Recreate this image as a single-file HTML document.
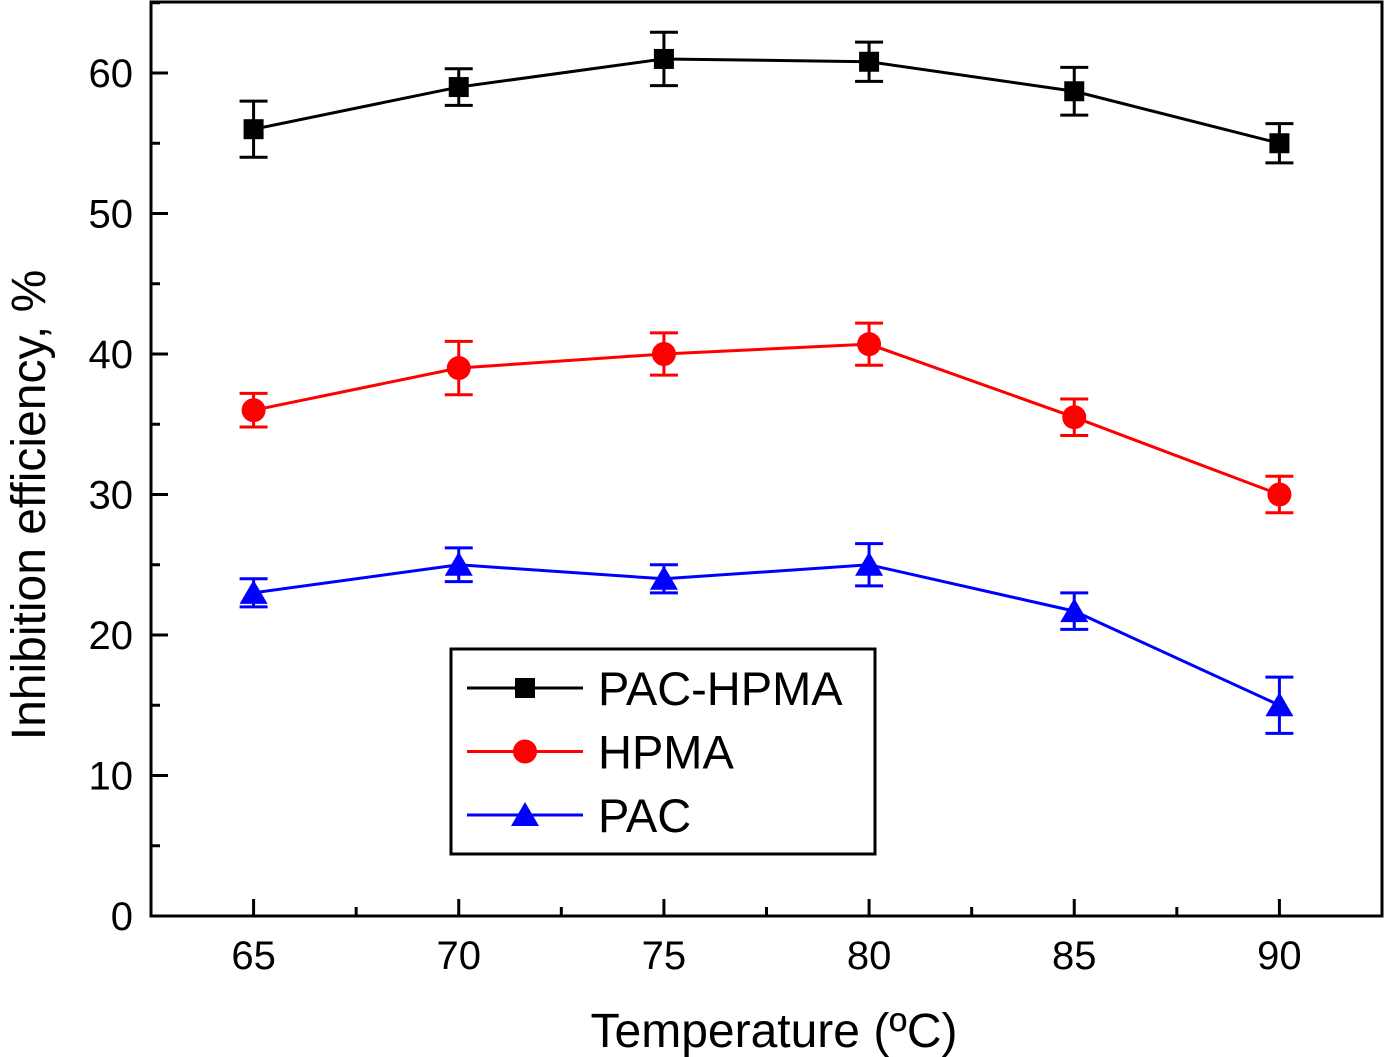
<!DOCTYPE html>
<html><head><meta charset="utf-8"><style>
body{margin:0;background:#fff}
svg{display:block;font-family:"Liberation Sans",Arial,sans-serif}
</style></head><body>
<svg id="c" width="1384" height="1057" viewBox="0 0 1384 1057"></svg>
<script>
const categories=[65,70,75,80,85,90];
const pacHpma=[56,59,61,60.8,58.7,55];
const pacHpmaErr=[2,1.3,1.9,1.4,1.7,1.4];
const hpma=[36,39,40,40.7,35.5,30];
const hpmaErr=[1.2,1.9,1.5,1.5,1.3,1.3];
const pac=[23,25,24,25,21.7,15];
const pacErr=[1,1.2,1,1.5,1.3,2];
const xTicks=[65,70,75,80,85,90];
const yTicks=[0,10,20,30,40,50,60];
const seriesNames=["PAC-HPMA","HPMA","PAC"];

const L=151,R=1382,T=2,B=916;
const x=v=>L+(v-62.5)/30*(R-L);
const y=v=>B-v*14.05;
const svg=document.getElementById('c');
const NS='http://www.w3.org/2000/svg';
function mk(tag,attrs,parent){const e=document.createElementNS(NS,tag);for(const k in attrs)e.setAttribute(k,attrs[k]);(parent||svg).appendChild(e);return e;}

let frame=mk('rect',{x:L,y:T,width:R-L,height:B-T,fill:'none',stroke:'#000','stroke-width':3});



for(let v=62.5;v<=92.5;v+=2.5){
  const major=v%5===0;
  const t=mk('line',{x1:x(v),x2:x(v),y1:B,y2:B-(major?17:9),stroke:'#000','stroke-width':3});
  
  
}
xTicks.forEach(v=>{
  const t=mk('text',{x:x(v),y:969,'font-size':40,'text-anchor':'middle'});t.textContent=v;
  
  
});
for(let v=0;v<=65;v+=5){
  const major=v%10===0;
  const t=mk('line',{x1:L,x2:L+(major?17:9),y1:y(v),y2:y(v),stroke:'#000','stroke-width':3});
  
  
}
yTicks.forEach(v=>{
  const t=mk('text',{x:133,y:y(v)+14,'font-size':40,'text-anchor':'end'});t.textContent=v;
  
  
});
let xt=mk('text',{x:774,y:1047,'font-size':48,'text-anchor':'middle'});xt.textContent='Temperature (ºC)';


let yt=mk('text',{x:0,y:0,'font-size':48,'text-anchor':'middle',transform:'translate(45,505) rotate(-90)'});yt.textContent='Inhibition efficiency, %';



function marker(shape,cx,cy,col,parent){
  if(shape==='sq')return mk('rect',{x:cx-10,y:cy-10,width:20,height:20,fill:col},parent);
  if(shape==='ci')return mk('circle',{cx:cx,cy:cy,r:12,fill:col},parent);
  return mk('polygon',{points:`${cx},${cy-13} ${cx+14},${cy+11} ${cx-14},${cy+11}`,fill:col},parent);
}
const series=[[pacHpma,pacHpmaErr,'#000','sq'],[hpma,hpmaErr,'#f00','ci'],[pac,pacErr,'#00f','tr']];
series.forEach(([vals,errs,col,sh],si)=>{
  const g=mk('g',{});
  
  
  const p=mk('polyline',{points:vals.map((v,i)=>x(categories[i])+','+y(v)).join(' '),fill:'none',stroke:col,'stroke-width':3},g);
  
  
  vals.forEach((v,i)=>{
    const cx=x(categories[i]);
    const e=mk('path',{d:`M${cx},${y(v-errs[i])}V${y(v+errs[i])}M${cx-14},${y(v-errs[i])}H${cx+14}M${cx-14},${y(v+errs[i])}H${cx+14}`,stroke:col,'stroke-width':3,fill:'none'},g);
    
    
    const m=marker(sh,cx,y(v),col,g);
    
    
  });
});

const lg=mk('g',{});


mk('rect',{x:451,y:649,width:424,height:205,fill:'#fff',stroke:'#000','stroke-width':3},lg);
series.forEach(([v,e,col,sh],i)=>{
  const ly=688+i*63.5;
  const en=mk('g',{},lg);
  
  
  mk('line',{x1:467,x2:583,y1:ly,y2:ly,stroke:col,'stroke-width':3},en);
  marker(sh,525,ly,col,en);
  const t=mk('text',{x:598,y:ly+17,'font-size':47},en);t.textContent=seriesNames[i];
});
</script>
</body></html>
